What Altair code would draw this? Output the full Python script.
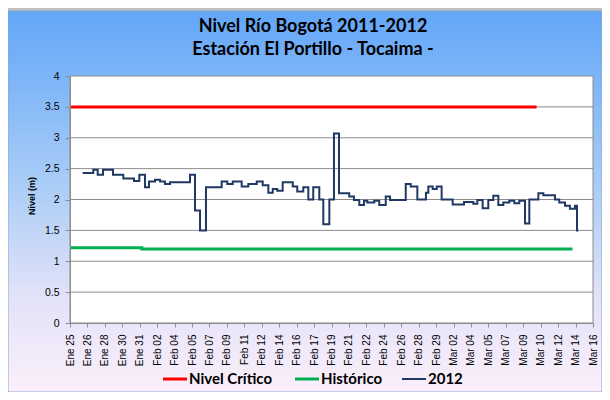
import altair as alt
import pandas as pd

TITLE_1 = "Nivel Río Bogotá 2011-2012"
TITLE_2 = "Estación El Portillo - Tocaima -"
Y_TITLE = "Nivel (m)"
X_LABELS = ["Ene 25", "Ene 26", "Ene 28", "Ene 30", "Ene 31", "Feb 02", "Feb 04",
            "Feb 05", "Feb 07", "Feb 09", "Feb 11", "Feb 12", "Feb 14", "Feb 16",
            "Feb 17", "Feb 19", "Feb 21", "Feb 22", "Feb 24", "Feb 26", "Feb 28",
            "Feb 29", "Mar 02", "Mar 04", "Mar 05", "Mar 07", "Mar 09", "Mar 10",
            "Mar 12", "Mar 14", "Mar 16"]
DAY_SPAN = 51  # Ene 25 -> Mar 16 (days)
Y_TICKS = [0, 0.5, 1, 1.5, 2, 2.5, 3, 3.5, 4]

SERIES = ["Nivel Crítico", "Histórico", "2012"]
COLORS = ["#FF0000", "#00B050", "#1F3864"]

CRIT_DAYS = [0, 45.5]
CRIT_LEVEL = [3.5, 3.5]

HIST_DAYS = [0, 7.0, 49.0]
HIST_LEVEL = [1.22, 1.20, 1.20]

DAYS_2012 = [1.24, 2.27, 2.70, 3.22, 4.19, 5.20, 6.24, 6.76, 7.31, 7.70, 8.29, 8.78,
             9.26, 9.75, 11.70, 12.19, 12.68, 13.26, 14.79, 15.34, 15.87, 16.74,
             17.39, 18.21, 18.79, 19.34, 19.77, 20.21, 20.74, 21.72, 22.16, 22.75,
             23.24, 23.72, 24.31, 24.70, 25.29, 25.74, 26.23, 27.23, 27.69, 28.21,
             28.67, 28.99, 29.67, 30.16, 30.79, 31.21, 32.74, 33.22, 33.87, 34.71,
             34.94, 35.37, 35.76, 36.24, 37.32, 38.42, 39.33, 39.72, 40.24, 40.79,
             41.28, 41.77, 42.25, 42.84, 43.33, 43.81, 44.37, 44.79, 45.67, 46.16,
             47.29, 47.71, 48.27, 48.75, 49.24, 49.44, 49.57]
LEVEL_2012 = [2.43, 2.48, 2.40, 2.48, 2.40, 2.34, 2.30, 2.40, 2.20, 2.29, 2.32, 2.29,
              2.25, 2.28, 2.40, 1.82, 1.50, 2.20, 2.29, 2.25, 2.29, 2.21,
              2.25, 2.29, 2.23, 2.11, 2.17, 2.14, 2.28, 2.21, 2.13, 2.20,
              2.00, 2.20, 2.00, 1.60, 2.00, 3.07, 2.10, 2.05, 1.99, 1.91,
              1.98, 1.95, 1.98, 1.91, 2.05, 1.99, 2.25, 2.21, 2.00, 2.11,
              2.21, 2.17, 2.21, 2.00, 1.92, 1.96, 1.93, 1.99, 1.86, 1.99,
              2.06, 1.91, 1.95, 1.98, 1.94, 1.98, 1.61, 2.00, 2.10, 2.07,
              2.00, 1.95, 1.90, 1.85, 1.90, 1.50, 1.50]

W, H = 523, 247
TICK_VALS = [i * DAY_SPAN / (len(X_LABELS) - 1) for i in range(len(X_LABELS))]
STEP = DAY_SPAN / (len(X_LABELS) - 1)
label_arr = "[" + ",".join("'%s'" % s for s in X_LABELS) + "]"

xscale = alt.Scale(domain=[0, DAY_SPAN], nice=False, zero=False)
yscale = alt.Scale(domain=[0, 4], nice=False)

x_axis = alt.Axis(values=TICK_VALS, title=None, grid=False, zindex=1,
                  labelExpr=label_arr + "[round(datum.value / %f)]" % STEP,
                  labelAngle=-90, labelFont="Liberation Sans", labelFontSize=10,
                  labelColor="#000000", labelPadding=7, tickSize=4,
                  labelOverlap=False, labelFlush=False, labelBound=False,
                  tickColor="#8c8c8c", domainColor="#8c8c8c")
y_axis = alt.Axis(values=Y_TICKS, title=None, grid=False, zindex=1, format="~g",
                  labelFont="Liberation Sans", labelFontSize=10.5,
                  labelOverlap=False, labelFlush=False, labelBound=False,
                  labelColor="#000000", labelPadding=6, tickSize=5,
                  tickColor="#8c8c8c", domainColor="#8c8c8c")

one = pd.DataFrame({"a": [0]})

bg = alt.Chart(one).mark_rect(
    fill=alt.Gradient(gradient="linear", x1=0, x2=0, y1=0, y2=1,
                      stops=[alt.GradientStop(color="#62a6f8", offset=0),
                             alt.GradientStop(color="#a8ccf6", offset=0.45),
                             alt.GradientStop(color="#e2e2f8", offset=0.75),
                             alt.GradientStop(color="#fbeffb", offset=1)]),
    stroke="#8aa8d0", strokeWidth=1
).encode(x=alt.value(-62), x2=alt.value(W + 9), y=alt.value(-65), y2=alt.value(H + 69))

plot_bg = alt.Chart(one).mark_rect(fill="white", stroke="#8c8c8c", strokeWidth=1).encode(
    x=alt.value(0), x2=alt.value(W), y=alt.value(0), y2=alt.value(H))

grid = alt.Chart(pd.DataFrame({"v": Y_TICKS[1:-1]})).mark_rule(color="#8c8c8c", strokeWidth=1).encode(
    y=alt.Y("v:Q", scale=yscale, axis=y_axis))


def line_df(days, levels):
    return pd.DataFrame({"day": days, "nivel": levels})


def series_line(days, levels, color, width):
    return alt.Chart(line_df(days, levels)).mark_line(
        color=color, strokeWidth=width, interpolate="step-after").encode(
        x=alt.X("day:Q", scale=xscale, axis=x_axis),
        y=alt.Y("nivel:Q", scale=yscale, axis=y_axis))


crit = series_line(CRIT_DAYS, CRIT_LEVEL, COLORS[0], 3)
hist = series_line(HIST_DAYS, HIST_LEVEL, COLORS[1], 3)
s2012 = series_line(DAYS_2012, LEVEL_2012, COLORS[2], 2)

t1 = alt.Chart(one).mark_text(text=TITLE_1, font="Lato", fontWeight="bold", fontSize=18,
                              align="center", baseline="middle", color="#000000").encode(
    x=alt.value(243), y=alt.value(-49))
t2 = alt.Chart(one).mark_text(text=TITLE_2, font="Lato", fontWeight="bold", fontSize=18,
                              align="center", baseline="middle", color="#000000").encode(
    x=alt.value(243), y=alt.value(-26))
ytitle = alt.Chart(one).mark_text(text=Y_TITLE, font="Liberation Sans", fontWeight="bold",
                                  fontSize=9, angle=270, align="center", baseline="middle",
                                  color="#000000").encode(x=alt.value(-38), y=alt.value(120))

LEGEND_X = [93, 225, 332]
legend_layers = []
for name, col, lx in zip(SERIES, COLORS, LEGEND_X):
    legend_layers.append(alt.Chart(one).mark_rule(color=col, strokeWidth=3 if col != COLORS[2] else 2).encode(
        x=alt.value(lx), x2=alt.value(lx + 24), y=alt.value(303)))
    legend_layers.append(alt.Chart(one).mark_text(text=name, font="Lato", fontWeight="bold",
                                                  fontSize=15, align="left", baseline="middle",
                                                  color="#000000").encode(
        x=alt.value(lx + 26), y=alt.value(303)))

chart = alt.layer(bg, plot_bg, grid, crit, hist, s2012, t1, t2, ytitle, *legend_layers).properties(
    width=W, height=H,
    padding={"left": 62, "top": 68, "right": 9, "bottom": 69},
    autosize=alt.AutoSizeParams(type="none"),
    background="#c0c0c0",
).configure_view(stroke=None)

chart.save("out.html", embed_options={"renderer": "svg", "actions": False})
